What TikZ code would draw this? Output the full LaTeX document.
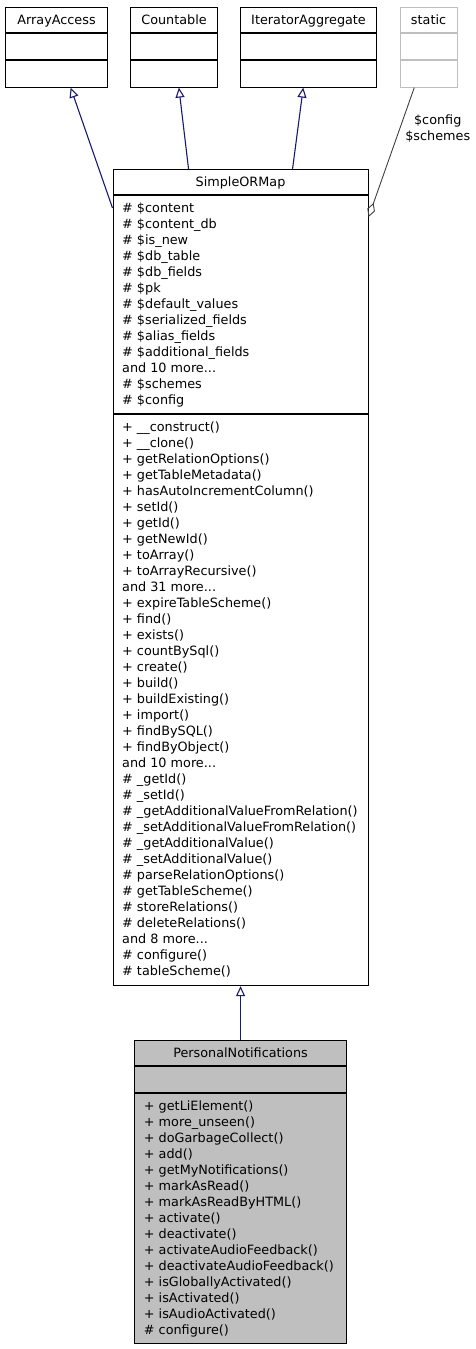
\documentclass[tikz,border=0pt]{standalone}
\usepackage{fontspec}
\setmainfont{DejaVu Sans}
\usepackage{xcolor}
\usetikzlibrary{arrows.meta,positioning}

\definecolor{navyline}{HTML}{191970}
\definecolor{grayline}{HTML}{404040}
\definecolor{lightgrayline}{HTML}{BFBFBF}
\definecolor{pngray}{HTML}{BFBFBF}
\newcommand{\umlfont}{\fontsize{12.8}{16}\selectfont}

\tikzset{
  classbox/.style={draw=black, line width=1.1pt, fill=white, inner sep=0pt, anchor=north west},
  classname/.style={font=\umlfont, inner sep=0pt, anchor=base},
  members/.style={font=\umlfont, inner sep=0pt, align=left, anchor=north west},
  divider/.style={draw=black, line width=1.3pt},
  inherit/.style={draw=navyline, line width=1.1pt, -{Triangle[open, length=10pt, width=9pt]}},
  usage/.style={draw=grayline, line width=0.9pt, -{Diamond[open, length=15pt, width=8pt]}},
}

\begin{document}
\begin{tikzpicture}[x=1pt, y=-1pt]
\useasboundingbox (0,0) rectangle (476,1349);

% interfaces and the static holder
\node[classbox, minimum width=102pt, minimum height=80pt] (aa) at (5,6.5) {};
\node[classbox, minimum width=87pt, minimum height=80pt] (cnt) at (130,6.5) {};
\node[classbox, minimum width=136pt, minimum height=80pt] (ia) at (240,6.5) {};
\node[classbox, draw=lightgrayline, minimum width=57pt, minimum height=80pt] (st) at (399.5,6.5) {};

\node[classname] (aaname) at ([yshift=-17.8pt]aa.north) {ArrayAccess};
\node[classname] (cntname) at ([yshift=-17.8pt]cnt.north) {Countable};
\node[classname] (ianame) at ([yshift=-17.8pt]ia.north) {IteratorAggregate};
\node[classname] (stname) at ([yshift=-17.8pt]st.north) {static};

\draw[divider] ([yshift=-26.5pt]aa.north west) -- ([yshift=-26.5pt]aa.north east);
\draw[divider] ([yshift=-53.5pt]aa.north west) -- ([yshift=-53.5pt]aa.north east);
\draw[divider] ([yshift=-26.5pt]cnt.north west) -- ([yshift=-26.5pt]cnt.north east);
\draw[divider] ([yshift=-53.5pt]cnt.north west) -- ([yshift=-53.5pt]cnt.north east);
\draw[divider] ([yshift=-26.5pt]ia.north west) -- ([yshift=-26.5pt]ia.north east);
\draw[divider] ([yshift=-53.5pt]ia.north west) -- ([yshift=-53.5pt]ia.north east);
\draw[divider, draw=lightgrayline] ([yshift=-26.5pt]st.north west) -- ([yshift=-26.5pt]st.north east);
\draw[divider, draw=lightgrayline] ([yshift=-53.5pt]st.north west) -- ([yshift=-53.5pt]st.north east);

% base class
\node[classbox, minimum width=255pt, minimum height=816pt] (som) at (112.5,169) {};
\node[classname] (somname) at ([yshift=-17.8pt]som.north) {SimpleORMap};
\draw[divider] ([yshift=-26pt]som.north west) -- ([yshift=-26pt]som.north east);
\draw[divider] ([yshift=-245pt]som.north west) -- ([yshift=-245pt]som.north east);
\node[members] (somattr) at ([xshift=9.5pt, yshift=-32.3pt]som.north west) {\strut\# \$content\\
\# \$content\_db\\
\# \$is\_new\\
\# \$db\_table\\
\# \$db\_fields\\
\# \$pk\\
\# \$default\_values\\
\# \$serialized\_fields\\
\# \$alias\_fields\\
\# \$additional\_fields\\
and 10 more...\\
\# \$schemes\\
\# \$config};
\node[members] (sommeth) at ([xshift=9.5pt, yshift=-251.3pt]som.north west) {\strut+ \_\_construct()\\
+ \_\_clone()\\
+ getRelationOptions()\\
+ getTableMetadata()\\
+ hasAutoIncrementColumn()\\
+ setId()\\
+ getId()\\
+ getNewId()\\
+ toArray()\\
+ toArrayRecursive()\\
and 31 more...\\
+ expireTableScheme()\\
+ find()\\
+ exists()\\
+ countBySql()\\
+ create()\\
+ build()\\
+ buildExisting()\\
+ import()\\
+ findBySQL()\\
+ findByObject()\\
and 10 more...\\
\# \_getId()\\
\# \_setId()\\
\# \_getAdditionalValueFromRelation()\\
\# \_setAdditionalValueFromRelation()\\
\# \_getAdditionalValue()\\
\# \_setAdditionalValue()\\
\# parseRelationOptions()\\
\# getTableScheme()\\
\# storeRelations()\\
\# deleteRelations()\\
and 8 more...\\
\# configure()\\
\# tableScheme()};

% derived class
\node[classbox, fill=pngray, minimum width=211.5pt, minimum height=303pt, below=54pt of som] (pn) {};
\node[classname] (pnname) at ([yshift=-17.8pt]pn.north) {PersonalNotifications};
\draw[divider] ([yshift=-26pt]pn.north west) -- ([yshift=-26pt]pn.north east);
\draw[divider] ([yshift=-53pt]pn.north west) -- ([yshift=-53pt]pn.north east);
\node[members] (pnmeth) at ([xshift=9.5pt, yshift=-59.3pt]pn.north west) {\strut+ getLiElement()\\
+ more\_unseen()\\
+ doGarbageCollect()\\
+ add()\\
+ getMyNotifications()\\
+ markAsRead()\\
+ markAsReadByHTML()\\
+ activate()\\
+ deactivate()\\
+ activateAudioFeedback()\\
+ deactivateAudioFeedback()\\
+ isGloballyActivated()\\
+ isActivated()\\
+ isAudioActivated()\\
\# configure()};

% relations
\coordinate (somaa) at ([yshift=-39pt]som.north west);
\coordinate (somcnt) at ([xshift=-52pt]som.north);
\coordinate (somia) at ([xshift=52pt]som.north);
\coordinate (somst) at ([yshift=-48pt]som.north east);
\draw[inherit] (somaa) -- (aa);
\draw[inherit] (somcnt) -- (cnt);
\draw[inherit] (somia) -- (ia);
\draw[usage] (st) -- node[pos=0.315, anchor=west, xshift=5pt, font=\umlfont, align=center, inner sep=0pt] {\$config\\\$schemes} (somst);
\draw[inherit] (pn) -- (som);
\end{tikzpicture}
\end{document}
